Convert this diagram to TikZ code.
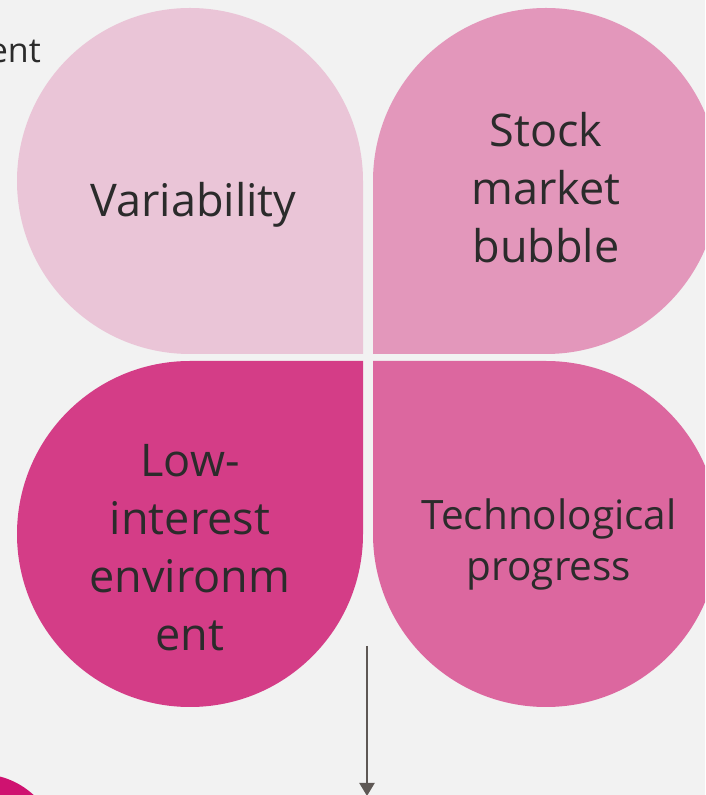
\documentclass[tikz,border=0pt]{standalone}
\usepackage{fontspec}
\setmainfont{Open Sans}
\usetikzlibrary{arrows.meta}
\definecolor{bgc}{HTML}{F2F2F2}
\definecolor{petalA}{HTML}{EAC5D7}
\definecolor{petalB}{HTML}{E397BB}
\definecolor{petalC}{HTML}{D43D87}
\definecolor{petalD}{HTML}{DC679F}
\definecolor{txt}{HTML}{2B2B2B}
\definecolor{arrowc}{HTML}{5E5855}
\definecolor{magc}{HTML}{CF1270}
\tikzset{
  label/.style={text=txt, align=center, inner sep=0pt, anchor=base,
    font=\fontsize{45}{58}\selectfont},
  smalllabel/.style={text=txt, align=center, inner sep=0pt, anchor=base,
    font=\fontsize{40.5}{51}\selectfont},
  arrowline/.style={draw=arrowc, line width=2pt, -{Triangle[width=15pt,length=13pt]}}
}
\begin{document}
\begin{tikzpicture}[x=1pt,y=1pt]
\useasboundingbox (0,0) rectangle (705,795);
\clip (0,0) rectangle (705,795);
\fill[bgc] (0,0) rectangle (705,795);
% partial circle bottom-left
\fill[magc] (-20,-58) circle[radius=79];
% petals
\fill[petalA] (190,441) -- (363,441) -- (363,614) arc[start angle=0,end angle=270,radius=173] -- cycle;
\fill[petalB] (373,614) -- (373,441) -- (546,441) arc[start angle=270,end angle=540,radius=173] -- cycle;
\fill[petalC] (363,261) -- (363,434) -- (190,434) arc[start angle=90,end angle=360,radius=173] -- cycle;
\fill[petalD] (546,434) -- (373,434) -- (373,261) arc[start angle=180,end angle=450,radius=173] -- cycle;
% texts (base anchor = baseline of last line)
\node[label] (var) at (193.5,578) {Variability};
\node[label] (stock) at (546,532) {Stock\\market\\bubble};
\node[label] (low) at (190,144) {Low-\\interest\\environm\\ent};
\node[smalllabel] (tech) at (549,214) {Technological\\progress};
\node[text=txt, inner sep=0pt, anchor=base east, font=\fontsize{34}{40}\selectfont] (ent) at (41,732) {ent};
% arrow
\coordinate (a1) at (367,149);
\coordinate (a2) at (367,-1);
\draw[arrowline] (a1) -- (a2);
\end{tikzpicture}
\end{document}
